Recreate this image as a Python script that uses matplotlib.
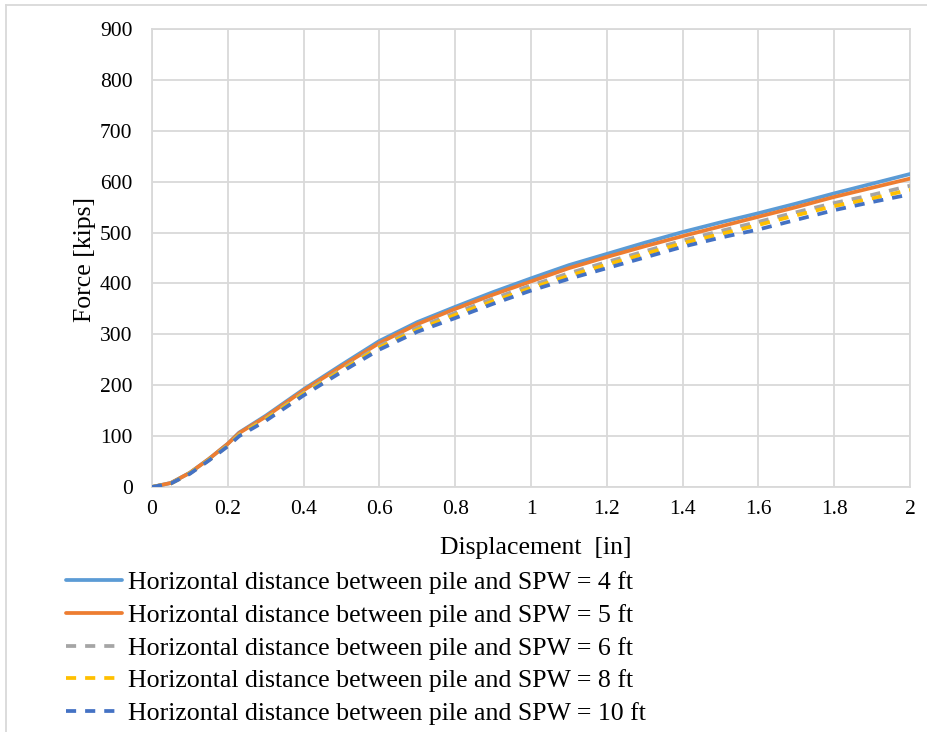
import matplotlib
matplotlib.use("Agg")
import matplotlib.pyplot as plt
from matplotlib.lines import Line2D

plt.rcParams['font.family'] = ['Liberation Serif', 'DejaVu Serif']

displacement = [0, 0.05, 0.1, 0.15, 0.2, 0.23, 0.3, 0.4, 0.5, 0.6, 0.7, 0.8, 0.9,
                1.0, 1.1, 1.2, 1.3, 1.4, 1.5, 1.6, 1.7, 1.8, 1.9, 2.0]
force_4ft = [0, 8, 28, 55, 85, 107, 140, 192, 240, 287, 324, 354, 383,
             410, 436, 458, 480, 501, 520, 538, 557, 577, 596, 615]
force_5ft = [0, 8, 28, 55, 85, 106, 138, 190, 237, 283, 320, 350, 378,
             404, 430, 452, 473, 493, 512, 531, 550, 570, 588, 606]
force_6ft = [0, 7, 27, 53, 82, 103, 134, 185, 231, 277, 313, 342, 370,
             396, 420, 442, 463, 484, 503, 521, 540, 558, 574, 592]
force_8ft = [0, 7, 27, 53, 81, 102, 133, 183, 229, 274, 309, 338, 365,
             391, 415, 437, 458, 479, 497, 515, 534, 552, 567, 584]
force_10ft = [0, 7, 26, 52, 80, 100, 130, 180, 226, 270, 305, 332, 360,
              386, 409, 430, 451, 472, 490, 506, 525, 544, 560, 575]

labels = ["Horizontal distance between pile and SPW = 4 ft",
          "Horizontal distance between pile and SPW = 5 ft",
          "Horizontal distance between pile and SPW = 6 ft",
          "Horizontal distance between pile and SPW = 8 ft",
          "Horizontal distance between pile and SPW = 10 ft"]
x_ticks = [0, 0.2, 0.4, 0.6, 0.8, 1, 1.2, 1.4, 1.6, 1.8, 2]
x_ticklabels = ["0", "0.2", "0.4", "0.6", "0.8", "1", "1.2", "1.4", "1.6", "1.8", "2"]
y_ticks = [0, 100, 200, 300, 400, 500, 600, 700, 800, 900]

W, H = 928, 732
fig = plt.figure(figsize=(W / 100, H / 100), dpi=100)
ax = fig.add_axes([152 / W, 1 - 487 / H, (910 - 152) / W, (487 - 29) / H])

series = [force_4ft, force_5ft, force_6ft, force_8ft, force_10ft]
colors = ["#5B9BD5", "#ED7D31", "#A5A5A5", "#FFC000", "#4472C4"]
styles = ["solid", "solid", "dash", "dash", "dash"]
handles = []
for ys, c, s, lab in zip(series, colors, styles, labels):
    if s == "solid":
        ln, = ax.plot(displacement, ys, color=c, lw=2.7, label=lab,
                      solid_capstyle="round", solid_joinstyle="round", zorder=3)
    else:
        ln, = ax.plot(displacement, ys, color=c, lw=2.7, label=lab,
                      dashes=(2.7, 2.4), dash_capstyle="butt", zorder=3)
    handles.append(ln)

ax.set_xlim(0, 2)
ax.set_ylim(0, 900)
ax.set_xticks(x_ticks)
ax.set_xticklabels(x_ticklabels)
ax.set_yticks(y_ticks)
ax.tick_params(length=0, labelsize=15.5, colors="black")
ax.tick_params(axis="x", pad=9)
ax.tick_params(axis="y", pad=14)
ax.grid(True, color="#D9D9D9", lw=1.3, zorder=0)
ax.set_axisbelow(True)
for sp in ax.spines.values():
    sp.set_color("#D9D9D9")
    sp.set_linewidth(1.3)

ax.set_xlabel("Displacement  [in]", fontsize=18.5, va="center")
ax.xaxis.set_label_coords((536 - 152) / 758, -(548 - 487) / 458)
ax.set_ylabel("Force [kips]", fontsize=18.5, va="center")
ax.yaxis.set_label_coords(-(152 - 85) / 758, 0.5 - 1 / 458)

fig.legend(handles=handles, labels=labels, loc="upper left",
           bbox_to_anchor=(56 / W, 1 - 561 / H), frameon=False,
           fontsize=18.6, handlelength=2.17, handletextpad=0.23,
           labelspacing=0.37, borderaxespad=0)

# figure border (top and left visible)
fig.add_artist(Line2D([6 / W, 1], [1 - 5 / H, 1 - 5 / H], color="#D9D9D9", lw=1.3,
                      transform=fig.transFigure))
fig.add_artist(Line2D([6 / W, 6 / W], [0, 1 - 5 / H], color="#D9D9D9", lw=1.3,
                      transform=fig.transFigure))

fig.savefig("out.png", dpi=100)
